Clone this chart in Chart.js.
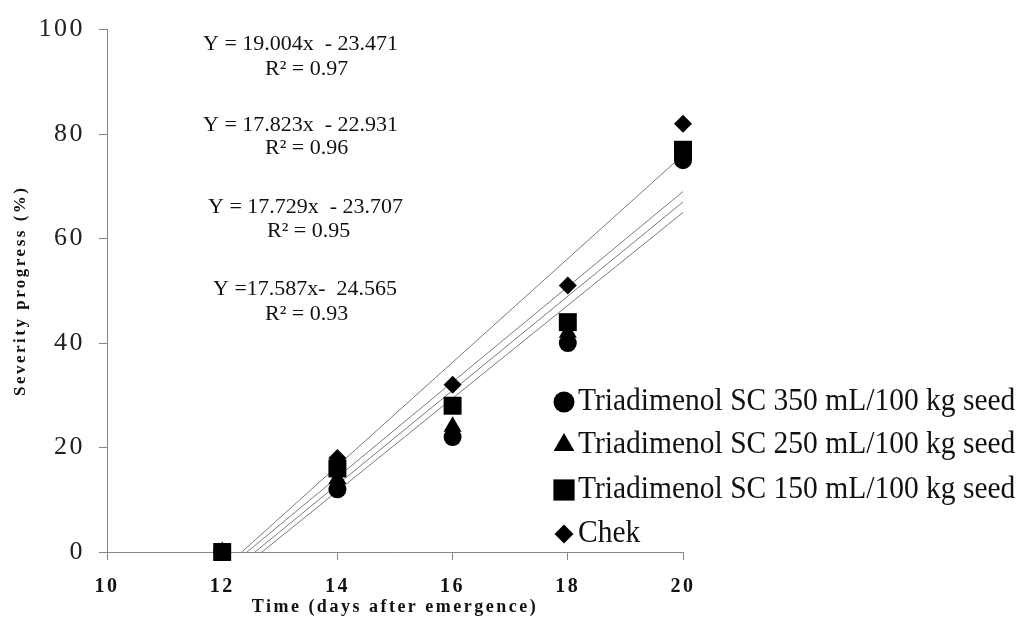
<!DOCTYPE html>
<html><head><meta charset="utf-8">
<script src="https://cdn.jsdelivr.net/npm/chart.js@4.4.0/dist/chart.umd.min.js"></script>
<style>html,body{margin:0;padding:0;background:#fff}#wrap{width:1024px;height:640px;position:relative}</style>
</head><body><div id="wrap"><canvas id="c" width="1024" height="640"></canvas></div>
<script>
// ---- data ----
const days = [12, 14, 16, 18, 20];
const sc350 = [0, 12, 22, 40, 75];
const sc250 = [0, 14, 24, 42, 76];
const sc150 = [0, 16, 28, 44, 77];
const chek = [0, 18, 32, 51, 82];
const seriesNames = ['Triadimenol SC 350 mL/100 kg seed', 'Triadimenol SC 250 mL/100 kg seed', 'Triadimenol SC 150 mL/100 kg seed', 'Chek'];
// fitted lines: day where each line meets 0 % and its value at day 20
const trendStartDay = [12.69, 12.57, 12.43, 12.34];
const trendEndDay = 20;
const trendEndValue = [65, 67, 69, 76];
const equations = ['Y = 19.004x  - 23.471', 'Y = 17.823x  - 22.931', 'Y = 17.729x  - 23.707', 'Y =17.587x-  24.565'];
const rSquared = ['R² = 0.97', 'R² = 0.96', 'R² = 0.95', 'R² = 0.93'];
const xRange = [10, 20], xStep = 2;
const yRange = [0, 100], yStep = 20;

// ---- styles / layout ----
const SERIF = '"Liberation Serif", "Times New Roman", serif';
const pointStyles = ['circle', 'triangle', 'rect', 'rectRot'];
const pointRadii = [9, 10.4, 12.7, 9];
const legendRadii = [10.5, 12, 15, 9.5];
const eqPos = [[203, 44], [203, 125], [208, 207], [213, 289]];
const r2Pos = [[265, 69], [265, 148], [267, 231], [265, 314]];
const legendMarkerX = 564, legendTextX = 578, legendRowsY = [402, 445, 490, 534];
const AXIS = '#868686';

const seriesValues = [sc350, sc250, sc150, chek];
const datasets = [];
seriesValues.forEach((vals, i) => {
  datasets.push({
    label: seriesNames[i],
    data: days.map((d, k) => ({x: d, y: vals[k]})),
    pointStyle: pointStyles[i], pointRadius: pointRadii[i], pointHoverRadius: pointRadii[i],
    backgroundColor: '#000', borderColor: '#000', borderWidth: 0, showLine: false,
    order: 4 - i, clip: false
  });
});
seriesValues.forEach((vals, i) => {
  datasets.push({
    label: 'trend ' + i,
    data: [{x: trendStartDay[i], y: 0}, {x: trendEndDay, y: trendEndValue[i]}],
    showLine: true, borderColor: '#7a7a7a', borderWidth: 1, pointRadius: 0, order: 10, clip: false
  });
});

function stretchedText(ctx, t, x, y, sy) {
  ctx.save();
  ctx.translate(x, y);
  ctx.scale(1, sy);
  ctx.fillText(t, 0, 0);
  ctx.restore();
}

const textPlugin = {
  id: 'textPlugin',
  beforeDraw(chart) { chart.ctx.letterSpacing = '2.5px'; },
  beforeDatasetsDraw(chart) { chart.ctx.letterSpacing = '0px'; },
  afterDraw(chart) {
    const ctx = chart.ctx;
    ctx.save();
    ctx.letterSpacing = '0px';
    ctx.fillStyle = '#111';
    ctx.textBaseline = 'middle';
    ctx.textAlign = 'left';
    ctx.font = '22px ' + SERIF;
    equations.forEach((t, i) => ctx.fillText(t, eqPos[i][0], eqPos[i][1]));
    rSquared.forEach((t, i) => ctx.fillText(t, r2Pos[i][0], r2Pos[i][1]));
    ctx.font = '29.5px ' + SERIF;
    seriesNames.forEach((t, i) => {
      ctx.fillStyle = '#000';
      Chart.helpers.drawPoint(ctx, {pointStyle: pointStyles[i], radius: legendRadii[i], rotation: 0, borderWidth: 0}, legendMarkerX, legendRowsY[i]);
      ctx.fillStyle = '#111';
      stretchedText(ctx, t, legendTextX, legendRowsY[i], 1.08);
    });
    ctx.restore();
  }
};

new Chart(document.getElementById('c'), {
  type: 'scatter',
  data: {datasets},
  plugins: [textPlugin],
  options: {
    responsive: false, devicePixelRatio: 1, animation: false,
    layout: {padding: {left: 0, right: 341, top: 20, bottom: 0}},
    plugins: {legend: {display: false}, tooltip: {enabled: false}},
    scales: {
      x: {
        type: 'linear', min: xRange[0], max: xRange[1],
        ticks: {stepSize: xStep, color: '#111', font: {family: SERIF, size: 20, weight: 'bold'}, padding: 15},
        grid: {display: true, drawOnChartArea: false, drawTicks: true, tickLength: 8, color: AXIS},
        border: {display: true, color: AXIS, width: 1},
        title: {display: true, text: 'Time (days after emergence)', color: '#111', font: {family: SERIF, size: 18, weight: 'bold'}, padding: {top: 0, bottom: 22}},
        afterFit(s) { s.height = 88; }
      },
      y: {
        type: 'linear', min: yRange[0], max: yRange[1],
        ticks: {stepSize: yStep, color: '#222', font: {family: SERIF, size: 26}, padding: 14},
        grid: {display: true, drawOnChartArea: false, drawTicks: true, tickLength: 8, color: AXIS},
        border: {display: true, color: AXIS, width: 1},
        title: {display: true, text: 'Severity progress (%)', color: '#111', font: {family: SERIF, size: 17, weight: 'bold'}, padding: {top: 10, bottom: 0}},
        afterFit(s) { s.width = 107; }
      }
    }
  }
});
</script></body></html>
